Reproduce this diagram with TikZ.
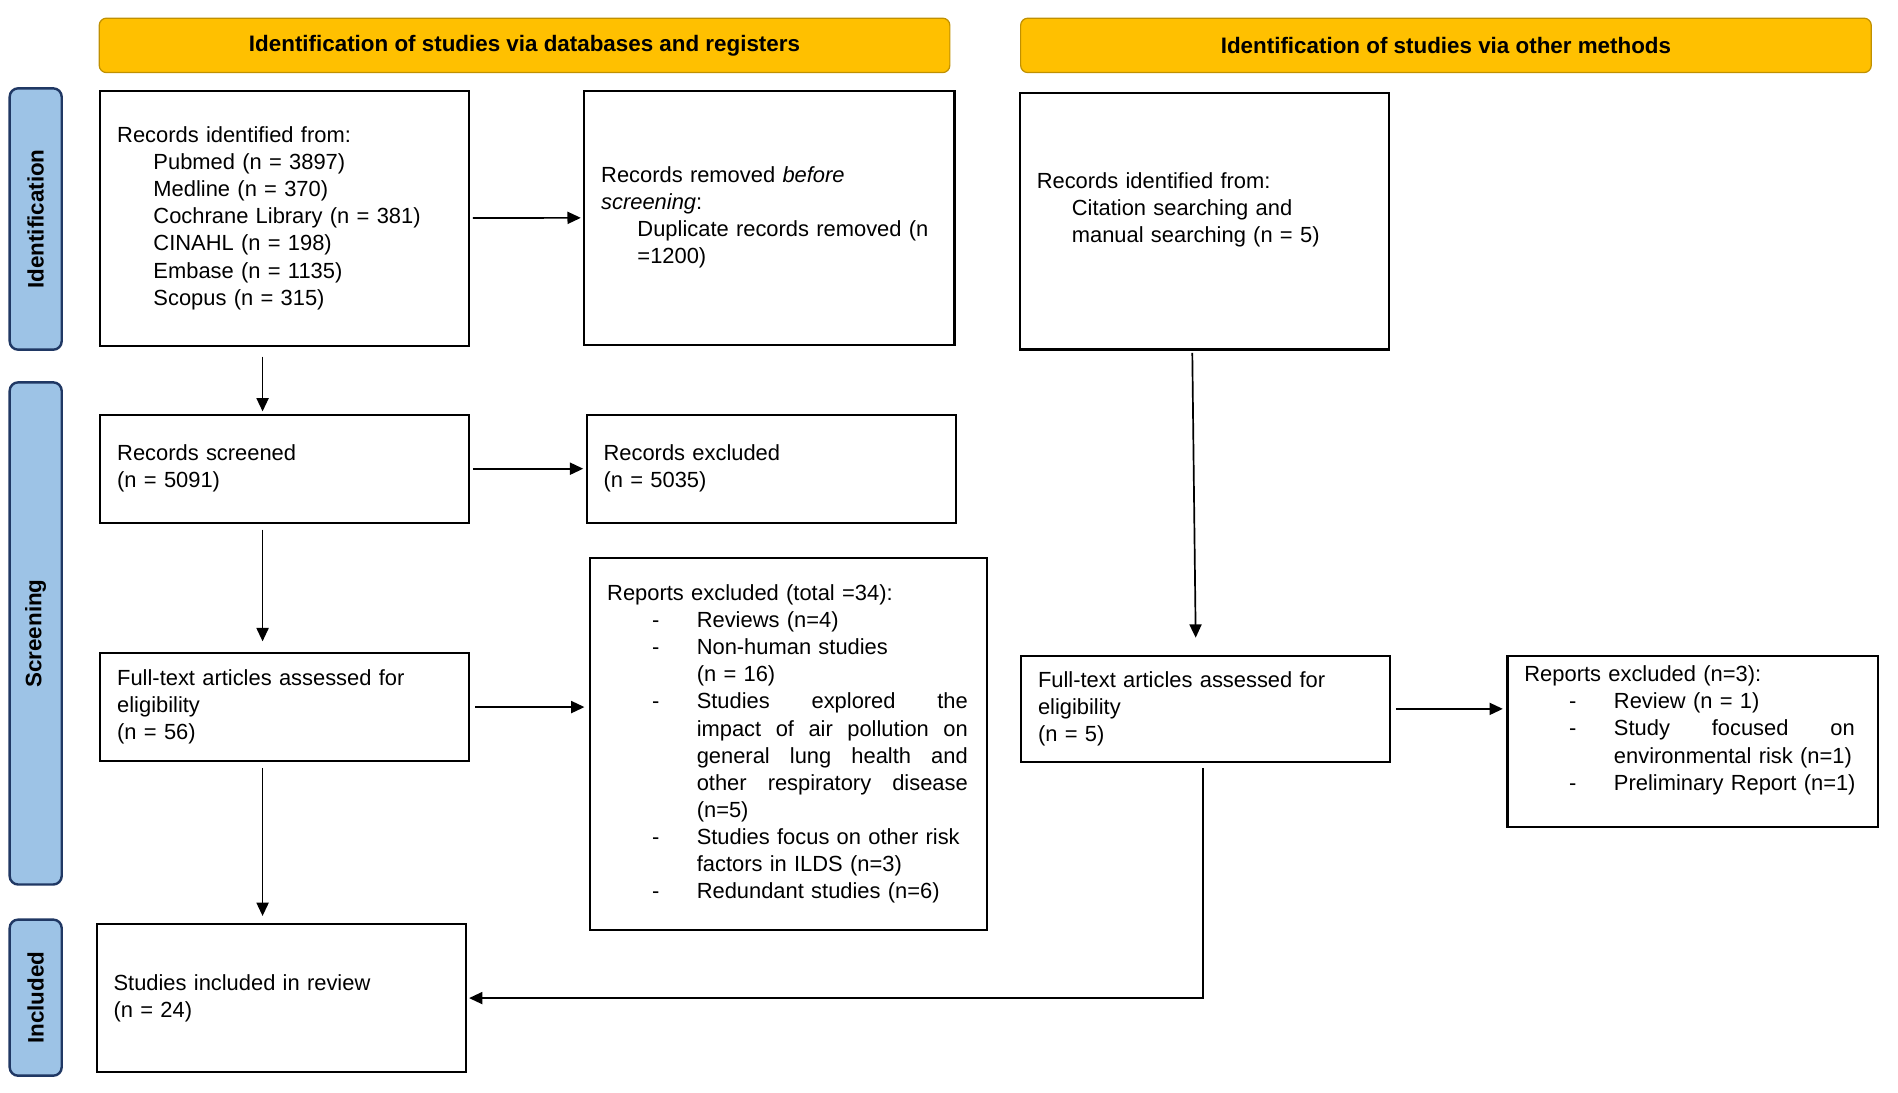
\documentclass[tikz,border=0pt]{standalone}
\usepackage{fontspec}
\setmainfont{Liberation Sans}
\usetikzlibrary{arrows.meta, positioning}
\definecolor{bargold}{HTML}{FFC000}
\definecolor{baredge}{HTML}{C09000}
\definecolor{sideblue}{HTML}{9DC3E6}
\definecolor{sideedge}{HTML}{203864}
\newcommand{\dashitem}{\hspace*{37pt}\makebox[37pt][l]{-}}
\newcommand{\itemcont}{\hspace*{74pt}}
\newcommand{\fillline}[2]{\makebox[#1][l]{#2}}

\begin{document}
\begin{tikzpicture}[x=1pt, y=-1pt,
    every node/.style={font=\fontsize{18.1}{22.4}\selectfont},
    box/.style={draw, line width=1.7pt, anchor=north west, align=left, inner xsep=14pt, inner ysep=4pt},
    header/.style={draw=baredge, fill=bargold, line width=1pt, rounded corners=6pt,
      minimum width=703pt, minimum height=45pt, font=\fontsize{18.5}{22.4}\selectfont\bfseries},
    side/.style={draw=sideedge, fill=sideblue, line width=2pt, rounded corners=7pt,
      minimum height=43pt, rotate=90, font=\fontsize{18.5}{22.4}\selectfont\bfseries},
    flow/.style={-{Triangle[length=11pt,width=10pt]}, line width=1.4pt}]
    \useasboundingbox (0,0) rectangle (1568.6,902.5);

    % headers and phases
    \node[header] (dbhead) at (433.5,37.5) {Identification of studies via databases and registers};
    \node[header] (othhead) at (1195,37.5) {Identification of studies via other methods};
    \node[side, minimum width=216pt] (phaseid) at (29.5,181) {Identification};
    \node[side, minimum width=415pt] (phasescr) at (29.5,523.5) {Screening};
    \node[side, minimum width=129pt] (phaseinc) at (29.5,824.5) {Included};

    % databases and registers
    \node[box, text width=277pt, minimum height=211pt] (ident) at (82,74)
      {Records identified from:\\
       \hspace*{30pt}Pubmed (n = 3897)\\
       \hspace*{30pt}Medline (n = 370)\\
       \hspace*{30pt}Cochrane Library (n = 381)\\
       \hspace*{30pt}CINAHL (n = 198)\\
       \hspace*{30pt}Embase (n = 1135)\\
       \hspace*{30pt}Scopus (n = 315)};
    \node[box, text width=278pt, minimum height=210pt] (removed) at (482,74)
      {Records removed \emph{before}\\
       \emph{screening}:\\
       \hspace*{30pt}Duplicate records removed (n\\
       \hspace*{30pt}=1200)};
    \node[box, text width=277pt, minimum height=89pt] (screened) at (82,342)
      {Records screened\\(n = 5091)};
    \node[box, text width=277pt, minimum height=89pt] (excluded) at (484,342)
      {Records excluded\\(n = 5035)};
    \node[box, text width=277pt, minimum height=89pt] (fulltext) at (82,539)
      {Full-text articles assessed for\\eligibility\\(n = 56)};
    \node[box, text width=300pt, minimum height=308pt] (reports) at (487,460)
      {Reports excluded (total =34):\\
       \dashitem Reviews (n=4)\\
       \dashitem Non-human studies\\
       \itemcont (n = 16)\\
       \dashitem\fillline{224pt}{Studies\hfill explored\hfill the}\\
       \itemcont\fillline{224pt}{impact\hfill of\hfill air\hfill pollution\hfill on}\\
       \itemcont\fillline{224pt}{general\hfill lung\hfill health\hfill and}\\
       \itemcont\fillline{224pt}{other\hfill respiratory\hfill disease}\\
       \itemcont (n=5)\\
       \dashitem Studies focus on other risk\\
       \itemcont factors in ILDS (n=3)\\
       \dashitem Redundant studies (n=6)};
    \node[box, text width=277pt, minimum height=122pt] (included) at (79,763)
      {Studies included in review\\(n = 24)};

    % other methods
    \node[box, text width=277pt, minimum height=212pt] (other) at (842,76)
      {Records identified from:\\
       \hspace*{29pt}Citation searching and\\
       \hspace*{29pt}manual searching (n = 5)\\ \mbox{}};
    \node[box, text width=277pt, minimum height=88pt] (fulltext2) at (843,541)
      {Full-text articles assessed for\\eligibility\\(n = 5)};
    \node[box, text width=278pt, minimum height=142pt] (reports2) at (1245,541)
      {Reports excluded (n=3):\\
       \dashitem Review (n = 1)\\
       \dashitem\fillline{199pt}{Study\hfill focused\hfill on}\\
       \itemcont environmental risk (n=1)\\
       \dashitem Preliminary Report (n=1)\\ \mbox{}};

    \coordinate (leftcol) at (217,0);
    \path[flow]
        (ident)          edge[shorten <=2pt, shorten >=2pt] (removed)
        (screened)       edge[shorten <=2pt, shorten >=2pt] (excluded)
        (fulltext.east)  edge[shorten <=4pt, shorten >=4pt] (fulltext.east -| reports.west)
        (fulltext2.east) edge[shorten <=4pt, shorten >=3pt] (fulltext2.east -| reports2.west)
        (ident.south -| leftcol)    edge[shorten <=8pt, shorten >=2pt] (screened.north -| leftcol)
        (screened.south -| leftcol) edge[shorten <=5pt, shorten >=9pt] (fulltext.north -| leftcol)
        (fulltext.south -| leftcol) edge[shorten <=5pt, shorten >=6pt] (included.north -| leftcol)
        ([xshift=-10pt]other.south) edge[shorten <=2pt, shorten >=14pt] ([xshift=-8pt]fulltext2.north);
    \draw[flow, shorten <=4pt, shorten >=2pt] ([xshift=-2pt]fulltext2.south) |- (included.east);
\end{tikzpicture}
\end{document}
